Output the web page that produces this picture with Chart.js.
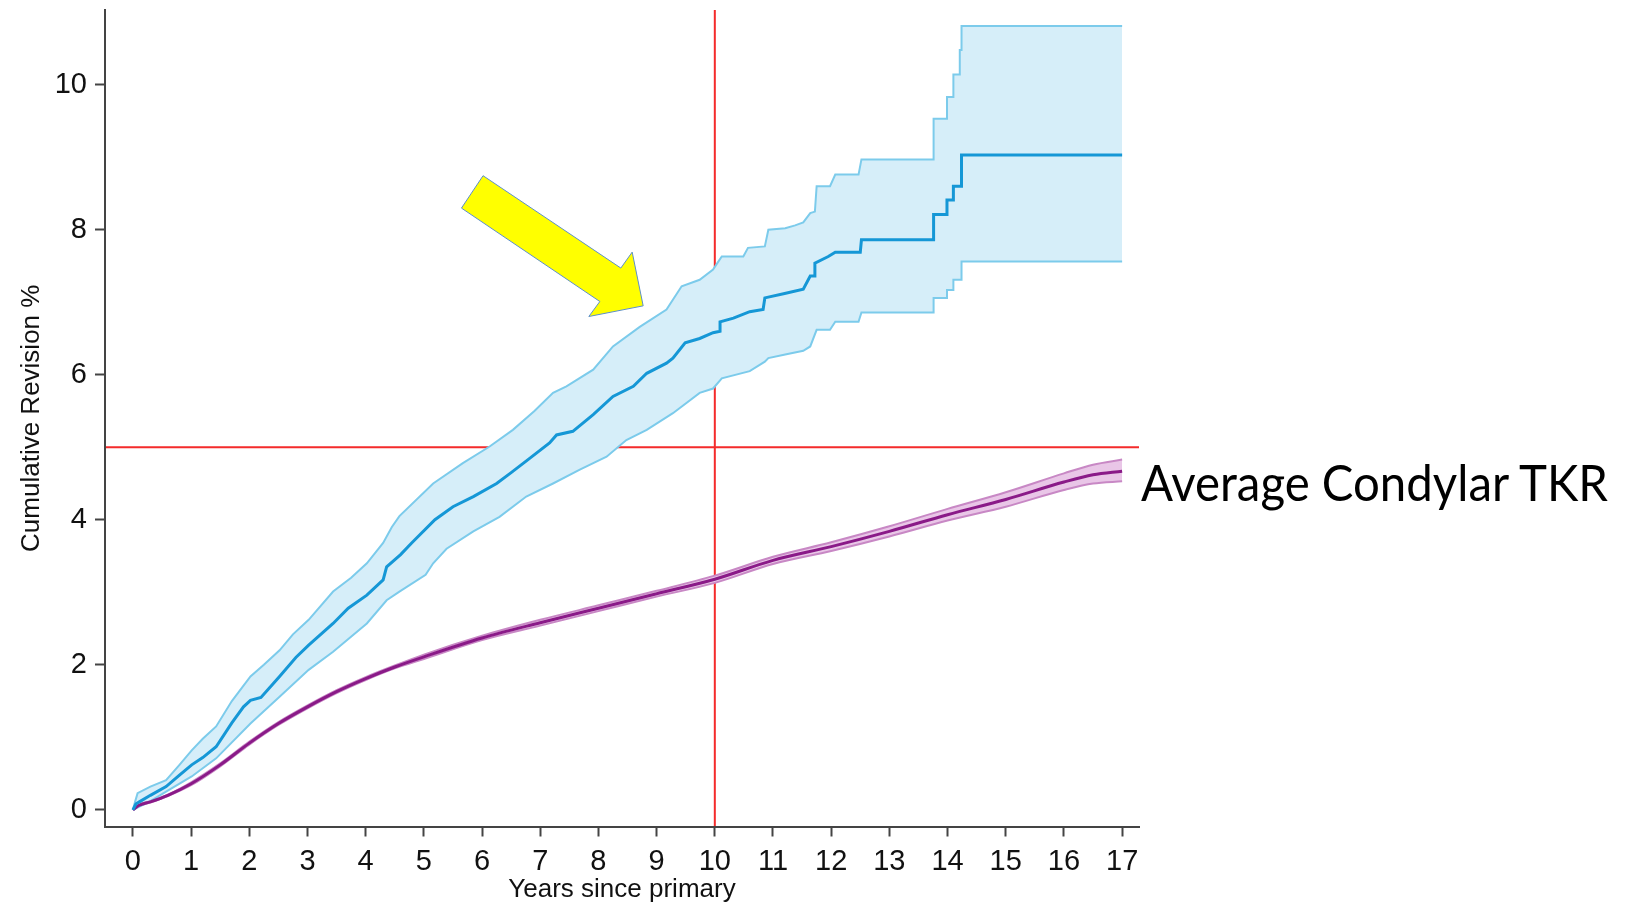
<!DOCTYPE html>
<html>
<head>
<meta charset="utf-8">
<script src="https://cdn.jsdelivr.net/npm/chart.js@4.4.0/dist/chart.umd.min.js"></script>
<style>
    html, body { margin: 0; padding: 0; background: #ffffff; }
    #wrap { position: relative; width: 1634px; height: 902px; }
    #revisionChart { position: absolute; left: 0; top: 0; }
    #avgLabel {
        position: absolute;
        left: 1141px;
        top: 457px;
        font-family: Lato, "Open Sans", sans-serif;
        font-size: 50px;
        line-height: 50px;
        color: #000000;
        white-space: nowrap;
        transform-origin: 0 50%;
    }
</style>
</head>
<body>
<div id="wrap">
    <canvas id="revisionChart" width="1634" height="902"></canvas>
    <div id="avgLabel">Average Condylar TKR</div>
</div>
<script>
// Blue implant: Kaplan-Meier estimate and 95% CI (repeated times give the steps)
const blueTimes = [0, 0.05, 0.11, 0.3, 0.57, 0.8, 1.01, 1.2, 1.43, 1.7, 1.9, 2.02, 2.2, 2.52, 2.8, 3.02, 3.44, 3.7, 4.02, 4.3, 4.36, 4.6, 4.79, 5.19, 5.5, 5.85, 6.25, 6.5, 6.79, 7.16, 7.28, 7.56, 7.91, 8.25, 8.6, 8.83, 9.17, 9.28, 9.49, 9.74, 9.97, 10.09, 10.09, 10.32, 10.6, 10.83, 10.86, 11.2, 11.52, 11.64, 11.72, 11.72, 11.95, 12.07, 12.5, 12.52, 13.76, 13.76, 13.99, 13.99, 14.1, 14.1, 14.24, 14.24, 17.0];
const blueEstimate = [0, 0.08, 0.11, 0.2, 0.32, 0.48, 0.62, 0.72, 0.87, 1.2, 1.42, 1.51, 1.55, 1.84, 2.1, 2.27, 2.57, 2.78, 2.96, 3.17, 3.35, 3.52, 3.68, 4.0, 4.18, 4.32, 4.5, 4.65, 4.83, 5.06, 5.17, 5.22, 5.45, 5.7, 5.84, 6.02, 6.16, 6.23, 6.44, 6.5, 6.58, 6.6, 6.73, 6.78, 6.87, 6.9, 7.06, 7.12, 7.18, 7.36, 7.36, 7.54, 7.63, 7.69, 7.69, 7.86, 7.86, 8.21, 8.21, 8.41, 8.41, 8.6, 8.6, 9.03, 9.03];

const blueUpperTimes = [0, 0.04, 0.08, 0.3, 0.57, 0.8, 1.01, 1.2, 1.43, 1.7, 2.02, 2.25, 2.52, 2.75, 3.02, 3.44, 3.75, 4.02, 4.3, 4.45, 4.58, 5.16, 5.67, 6.13, 6.53, 6.9, 7.22, 7.45, 7.91, 8.25, 8.71, 9.17, 9.43, 9.74, 9.97, 10.06, 10.12, 10.49, 10.57, 10.86, 10.92, 11.21, 11.38, 11.52, 11.64, 11.72, 11.75, 11.98, 12.07, 12.47, 12.52, 13.76, 13.76, 13.99, 13.99, 14.1, 14.1, 14.21, 14.21, 14.24, 14.24, 17.0];
const blueUpper = [0, 0.12, 0.23, 0.32, 0.41, 0.62, 0.82, 0.98, 1.15, 1.5, 1.84, 2.0, 2.2, 2.42, 2.62, 3.01, 3.2, 3.4, 3.68, 3.9, 4.05, 4.5, 4.78, 5.01, 5.24, 5.5, 5.75, 5.84, 6.07, 6.39, 6.66, 6.9, 7.22, 7.31, 7.45, 7.56, 7.63, 7.63, 7.75, 7.77, 8.0, 8.02, 8.06, 8.1, 8.23, 8.25, 8.6, 8.6, 8.76, 8.76, 8.97, 8.97, 9.53, 9.53, 9.83, 9.83, 10.14, 10.14, 10.48, 10.48, 10.81, 10.81];

const blueLowerTimes = [0, 0.3, 0.57, 1.01, 1.43, 2.02, 2.52, 3.02, 3.44, 4.02, 4.36, 4.58, 5.03, 5.16, 5.39, 5.85, 6.3, 6.76, 7.22, 7.68, 8.14, 8.48, 8.83, 9.28, 9.74, 9.97, 10.12, 10.6, 10.86, 10.92, 11.21, 11.52, 11.64, 11.75, 11.98, 12.07, 12.47, 12.52, 13.76, 13.76, 13.99, 13.99, 14.1, 14.1, 14.24, 14.24, 17.0];
const blueLower = [0, 0.12, 0.25, 0.46, 0.71, 1.19, 1.56, 1.93, 2.18, 2.57, 2.89, 3.01, 3.24, 3.4, 3.6, 3.84, 4.04, 4.32, 4.5, 4.69, 4.87, 5.1, 5.24, 5.47, 5.75, 5.81, 5.95, 6.05, 6.18, 6.23, 6.28, 6.33, 6.39, 6.62, 6.62, 6.73, 6.73, 6.86, 6.86, 7.06, 7.06, 7.17, 7.17, 7.31, 7.31, 7.56, 7.56];

// Average condylar TKR: estimate and 95% CI
const purpleTimes = [0, 0.1, 0.3, 0.6, 1, 1.5, 2, 2.5, 3, 3.5, 4, 4.5, 5, 6, 7, 8, 9, 10, 11, 12, 13, 14, 15, 16, 16.5, 17];
const purpleEstimate = [0, 0.06, 0.11, 0.2, 0.36, 0.62, 0.92, 1.19, 1.42, 1.63, 1.81, 1.97, 2.11, 2.37, 2.58, 2.78, 2.98, 3.18, 3.44, 3.63, 3.84, 4.07, 4.28, 4.52, 4.62, 4.67];
const purpleUpper = [0, 0.07, 0.12, 0.21, 0.38, 0.64, 0.94, 1.21, 1.44, 1.65, 1.83, 1.99, 2.14, 2.4, 2.62, 2.82, 3.02, 3.23, 3.49, 3.69, 3.91, 4.15, 4.38, 4.64, 4.76, 4.83];
const purpleLower = [0, 0.05, 0.1, 0.19, 0.34, 0.6, 0.9, 1.17, 1.4, 1.61, 1.79, 1.95, 2.08, 2.34, 2.54, 2.74, 2.94, 3.13, 3.39, 3.57, 3.77, 3.99, 4.18, 4.41, 4.5, 4.53];

const xTicks = [0, 1, 2, 3, 4, 5, 6, 7, 8, 9, 10, 11, 12, 13, 14, 15, 16, 17];
const yTicks = [0, 2, 4, 6, 8, 10];

// reference lines: 10 years, 5% revision
const refYear = 10;
const refRevision = 5;

function toPoints(times, values) {
    return times.map((t, i) => ({ x: t, y: values[i] }));
}

const axisFont = { family: "'Liberation Sans', Arial, sans-serif", size: 29 };
const titleFont = { family: "'Liberation Sans', Arial, sans-serif", size: 26 };

// red crosshair drawn under the bands
const refLines = {
    id: "refLines",
    beforeDraw(chart) {
        const { ctx, chartArea, scales } = chart;
        const xp = scales.x.getPixelForValue(refYear);
        const yp = scales.y.getPixelForValue(refRevision);
        ctx.save();
        ctx.strokeStyle = "#f42b2b";
        ctx.lineWidth = 2;
        ctx.beginPath();
        ctx.moveTo(chartArea.left, yp);
        ctx.lineTo(chartArea.right, yp);
        ctx.moveTo(xp, chartArea.top);
        ctx.lineTo(xp, chartArea.bottom);
        ctx.stroke();
        ctx.restore();
    }
};

// yellow callout arrow, corners given in axis units
const arrowShape = [[6.017, 8.745], [8.385, 7.471], [8.58, 7.691], [8.769, 6.95], [7.835, 6.803], [8.024, 7.01], [5.646, 8.298]];

const calloutArrow = {
    id: "calloutArrow",
    afterDatasetsDraw(chart) {
        const { ctx, scales } = chart;
        ctx.save();
        ctx.beginPath();
        arrowShape.forEach(([vx, vy], i) => {
            const px = scales.x.getPixelForValue(vx);
            const py = scales.y.getPixelForValue(vy);
            if (i === 0) ctx.moveTo(px, py); else ctx.lineTo(px, py);
        });
        ctx.closePath();
        ctx.fillStyle = "#ffff00";
        ctx.fill();
        ctx.strokeStyle = "#5d8fc9";
        ctx.lineWidth = 1;
        ctx.stroke();
        ctx.restore();
    }
};

new Chart(document.getElementById("revisionChart"), {
    type: "line",
    data: {
        datasets: [
            {
                label: "Estimate",
                data: toPoints(blueTimes, blueEstimate),
                borderColor: "#1597d6",
                borderWidth: 3,
                fill: false,
                order: 0
            },
            {
                label: "Average condylar TKR",
                data: toPoints(purpleTimes, purpleEstimate),
                borderColor: "#8a1a88",
                borderWidth: 3,
                cubicInterpolationMode: "monotone",
                fill: false,
                order: 1
            },
            {
                label: "Upper CI",
                data: toPoints(blueUpperTimes, blueUpper),
                borderColor: "#7ccbeb",
                borderWidth: 2,
                backgroundColor: "#d6eef9",
                fill: 3,
                order: 2
            },
            {
                label: "Lower CI",
                data: toPoints(blueLowerTimes, blueLower),
                borderColor: "#7ccbeb",
                borderWidth: 2,
                fill: false,
                order: 3
            },
            {
                label: "Average upper CI",
                data: toPoints(purpleTimes, purpleUpper),
                borderColor: "#c888c5",
                borderWidth: 2,
                backgroundColor: "#e9c6e7",
                cubicInterpolationMode: "monotone",
                fill: 5,
                order: 4
            },
            {
                label: "Average lower CI",
                data: toPoints(purpleTimes, purpleLower),
                borderColor: "#c888c5",
                borderWidth: 2,
                cubicInterpolationMode: "monotone",
                fill: false,
                order: 5
            }
        ]
    },
    options: {
        responsive: false,
        animation: false,
        layout: {
            padding: { left: 0, top: 10, right: 495, bottom: 0 }
        },
        elements: {
            point: { radius: 0 },
            line: { tension: 0 }
        },
        plugins: {
            legend: { display: false },
            tooltip: { enabled: false },
            filler: { drawTime: "beforeDatasetsDraw" }
        },
        scales: {
            x: {
                type: "linear",
                min: -0.48,
                max: 17.29,
                afterBuildTicks: (scale) => {
                    scale.ticks = xTicks.map((v) => ({ value: v }));
                },
                afterFit: (scale) => {
                    scale.height = 75.5;
                    scale.paddingLeft = 0;
                    scale.paddingRight = 0;
                },
                border: { display: true, color: "#444444", width: 2 },
                grid: {
                    drawOnChartArea: false,
                    drawTicks: true,
                    tickLength: 10,
                    tickWidth: 2,
                    tickColor: "#444444"
                },
                ticks: {
                    font: axisFont,
                    color: "#111111",
                    padding: 8,
                    maxRotation: 0,
                    autoSkip: false
                },
                title: {
                    display: true,
                    text: "Years since primary",
                    font: titleFont,
                    color: "#111111",
                    padding: { top: 0, bottom: -3 }
                }
            },
            y: {
                type: "linear",
                min: -0.23,
                max: 11.03,
                afterBuildTicks: (scale) => {
                    scale.ticks = yTicks.map((v) => ({ value: v }));
                },
                afterFit: (scale) => {
                    scale.width = 105;
                    scale.paddingTop = 0;
                    scale.paddingBottom = 0;
                },
                border: { display: true, color: "#444444", width: 2 },
                grid: {
                    drawOnChartArea: false,
                    drawTicks: true,
                    tickLength: 10,
                    tickWidth: 2,
                    tickColor: "#444444"
                },
                ticks: {
                    font: axisFont,
                    color: "#111111",
                    padding: 8
                },
                title: {
                    display: true,
                    text: "Cumulative Revision %",
                    font: titleFont,
                    color: "#111111",
                    padding: { top: 16, bottom: 0 }
                }
            }
        }
    },
    plugins: [refLines, calloutArrow]
});

// squeeze the side label to the width it has in the original slide
const avgLabel = document.getElementById("avgLabel");
const labelWidth = avgLabel.getBoundingClientRect().width;
avgLabel.style.transform = `scaleX(${467 / labelWidth})`;
</script>
</body>
</html>
